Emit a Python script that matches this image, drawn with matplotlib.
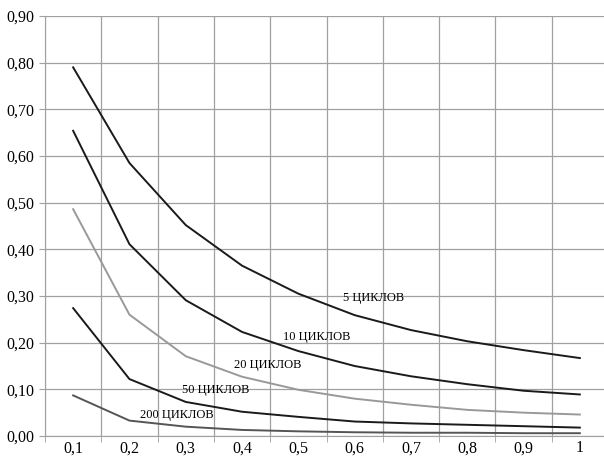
import matplotlib.pyplot as plt
from matplotlib.ticker import MultipleLocator, FixedLocator, FuncFormatter

plt.rcParams['font.family'] = ['Liberation Serif', 'DejaVu Serif']

x_vals = [0.1, 0.2, 0.3, 0.4, 0.5, 0.6, 0.7, 0.8, 0.9, 1.0]
x_labels = ["0,1", "0,2", "0,3", "0,4", "0,5", "0,6", "0,7", "0,8", "0,9", "1"]

cyc5 = [0.79, 0.585, 0.452, 0.365, 0.305, 0.259, 0.227, 0.203, 0.184, 0.167]
cyc10 = [0.654, 0.411, 0.291, 0.223, 0.182, 0.150, 0.128, 0.111, 0.097, 0.089]
cyc20 = [0.486, 0.260, 0.171, 0.127, 0.099, 0.080, 0.067, 0.056, 0.050, 0.046]
cyc50 = [0.274, 0.122, 0.073, 0.052, 0.041, 0.031, 0.027, 0.024, 0.021, 0.018]
cyc200 = [0.087, 0.033, 0.020, 0.013, 0.010, 0.008, 0.007, 0.007, 0.006, 0.006]

series = [
    (cyc5, "#1a1a1a", "5 ЦИКЛОВ", (0.633, 0.296)),
    (cyc10, "#1a1a1a", "10 ЦИКЛОВ", (0.533, 0.212)),
    (cyc20, "#999999", "20 ЦИКЛОВ", (0.446, 0.152)),
    (cyc50, "#1a1a1a", "50 ЦИКЛОВ", (0.354, 0.099)),
    (cyc200, "#555555", "200 ЦИКЛОВ", (0.285, 0.045)),
]

fig = plt.figure(figsize=(6.04, 4.58), dpi=100)
ax = fig.add_axes([45 / 604, 22 / 458, 563 / 604, 420 / 458])

for vals, col, name, pos in series:
    ax.plot(x_vals, vals, color=col, lw=1.4, zorder=3)
    ax.text(pos[0], pos[1], name, ha="center", va="center", fontsize=9, zorder=4)

ax.set_xlim(0.05, 1.05)
ax.set_ylim(0, 0.9)

ax.xaxis.set_major_locator(FixedLocator(x_vals))
ax.xaxis.set_major_formatter(FuncFormatter(lambda v, p: x_labels[int(round(v * 10)) - 1]))
ax.xaxis.set_minor_locator(FixedLocator([0.05 + 0.1 * i for i in range(11)]))
ax.yaxis.set_major_locator(MultipleLocator(0.1))
ax.yaxis.set_major_formatter(FuncFormatter(lambda v, p: f"{v:.2f}".replace(".", ",")))

ax.grid(True, which="minor", axis="x", color="#a0a0a0", lw=0.9)
ax.grid(True, which="major", axis="y", color="#a0a0a0", lw=0.9)
ax.tick_params(axis="x", which="major", length=0, labelsize=11.5, pad=3)
ax.tick_params(axis="x", which="minor", length=4, color="#a0a0a0", direction="out")
ax.tick_params(axis="y", which="major", length=4, color="#a0a0a0", labelsize=11.5, pad=4)

for s in ["top", "right"]:
    ax.spines[s].set_visible(False)
ax.spines["left"].set_color("#a0a0a0")
ax.spines["bottom"].set_color("#a0a0a0")

fig.savefig("out.png", dpi=100)
